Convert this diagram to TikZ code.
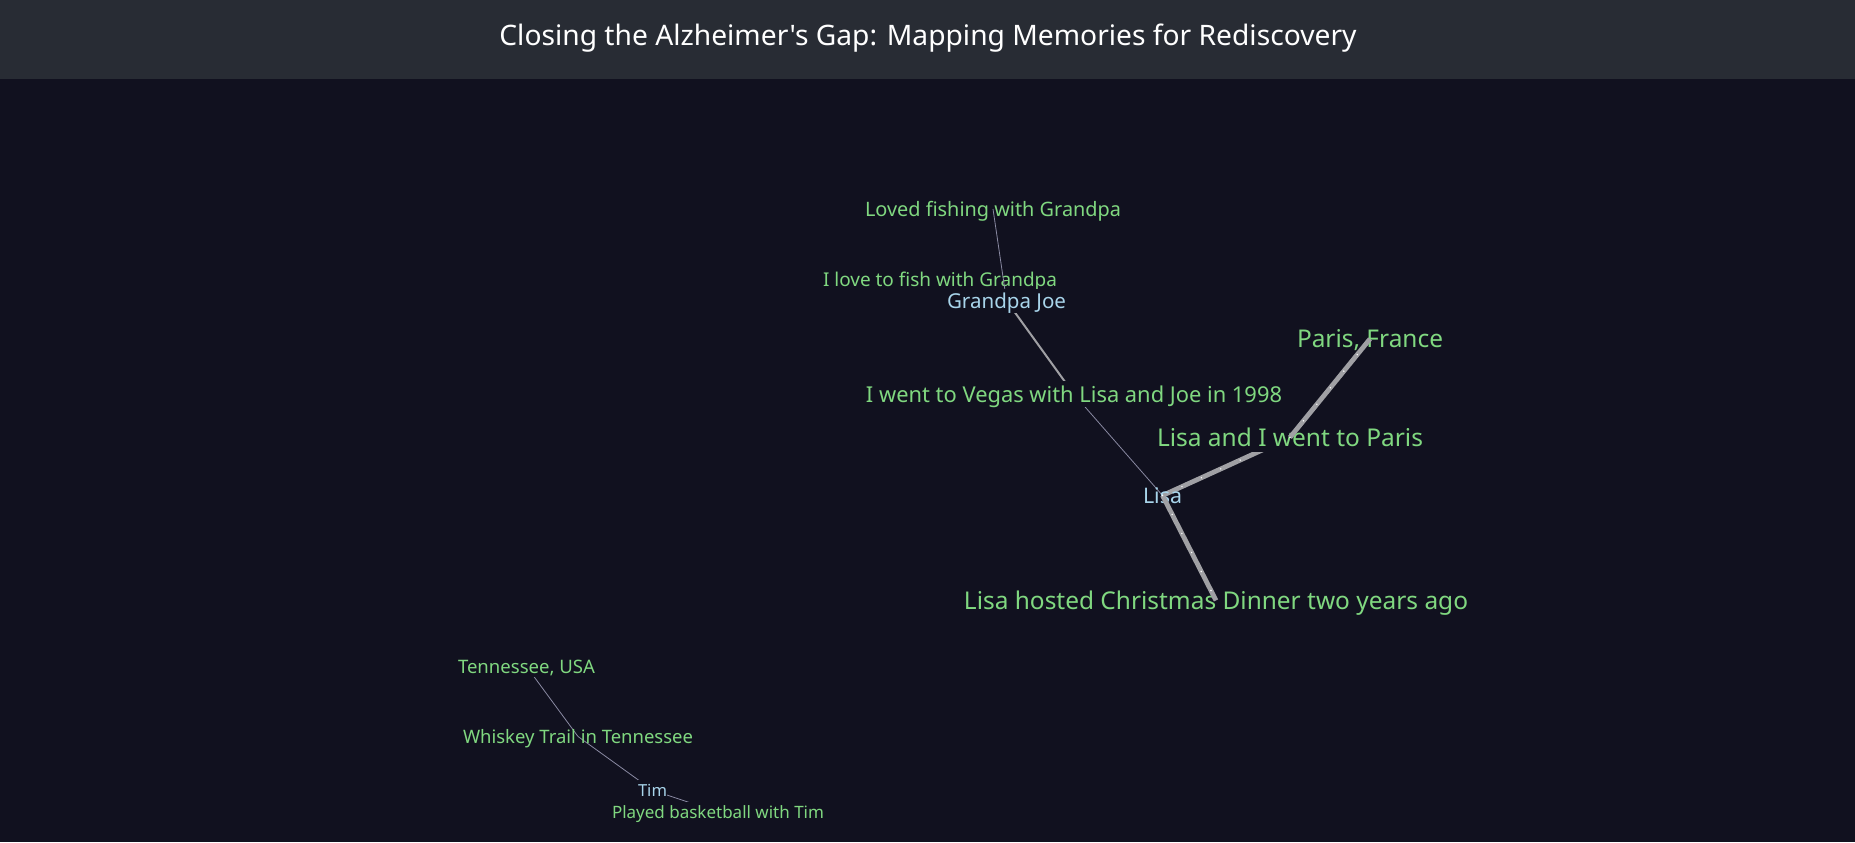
\documentclass[tikz,border=0pt]{standalone}
\usepackage{fontspec}
\usepackage{graphicx}
\newfontfamily\uifont{Noto Sans}
\usetikzlibrary{calc}
\definecolor{bgc}{HTML}{11111F}
\definecolor{hdrc}{HTML}{282C34}
\definecolor{memc}{HTML}{80D880}
\definecolor{perc}{HTML}{A8D4EA}
\definecolor{thinc}{HTML}{8A8AA2}
\definecolor{thickc}{HTML}{A0A0A4}
\newlength\pxu
\setlength\pxu{0.75pt}
\newcommand\fittext[2]{\resizebox{#1\pxu}{!}{\vphantom{Ág}#2}}
\pgfdeclarelayer{back}
\pgfdeclarelayer{links}
\pgfdeclarelayer{mid}
\pgfdeclarelayer{front}
\pgfsetlayers{back,links,main,mid,front}
\begin{document}
\begin{tikzpicture}[x=0.75pt,y=-0.75pt,
  lbl/.style={inner sep=0pt, anchor=base, font=\uifont},
  mem/.style={lbl, text=memc},
  per/.style={lbl, text=perc},
  occl/.style={fill=bgc},
  thinlink/.style={draw=thinc, line width=0.6pt},
  midlink/.style={draw=thickc, line width=1.5pt},
  thicklink/.style={draw=thickc, line width=3.6pt},
  sparks/.style={draw=white, line width=1.2pt, line cap=round, dash pattern=on 0pt off 16pt}]
\begin{pgfonlayer}{back}
\useasboundingbox (0,0) rectangle (1855,842);
\fill[bgc] (0,0) rectangle (1855,842);
\fill[hdrc] (0,0) rectangle (1855,79);
\end{pgfonlayer}
\node[lbl, text=white] (title) at (928,46) {\fittext{857}{Closing the Alzheimer's Gap: Mapping Memories for Rediscovery}};
% upper cluster
\begin{pgfonlayer}{front}
\node[per, occl] (gjoe) at (1006.5,308) {\fittext{119}{Grandpa Joe}};
\end{pgfonlayer}
\node[mem] (loved) at (993,216) {\fittext{256}{Loved fishing with Grandpa}};
\node[mem, occl] (ilove) at (940,286.5) {\fittext{234}{I love to fish with Grandpa}};
\node[mem, occl] (vegas) at (1074,402) {\fittext{416}{I went to Vegas with Lisa and Joe in 1998}};
\node[per] (lisa) at (1162.5,503) {\fittext{39}{Lisa}};
\node[mem, occl] (lisaparis) at (1290,446) {\fittext{266}{Lisa and I went to Paris}};
\node[mem] (paris) at (1370,347.5) {\fittext{146}{Paris, France}};
\node[mem] (xmas) at (1216,609) {\fittext{504}{Lisa hosted Christmas Dinner two years ago}};
% lower cluster
\node[mem, occl] (tenn) at (526.5,673) {\fittext{137}{Tennessee, USA}};
\node[mem] (whiskey) at (578,743) {\fittext{230}{Whiskey Trail in Tennessee}};
\node[per, occl] (tim) at (652.5,796) {\fittext{29}{Tim}};
\node[mem, occl] (played) at (718,818) {\fittext{212}{Played basketball with Tim}};
\begin{pgfonlayer}{links}
\path[thinlink] (ilove.center) -- (gjoe.center);
\path[midlink] (gjoe.center) -- (vegas.center);
\path[thinlink] (vegas.center) -- (lisa.center);
\path[thicklink] (lisa.center) -- (lisaparis.center);
\path[sparks] (lisa.center) -- (lisaparis.center);
\path[thinlink] (tenn.center) -- (whiskey.center);
\path[thinlink] (whiskey.center) -- (tim.center);
\path[thinlink] (tim.center) -- (played.center);
\end{pgfonlayer}
\begin{pgfonlayer}{mid}
\path[thinlink] (loved.center) -- (gjoe.center);
\end{pgfonlayer}
\begin{pgfonlayer}{front}
\path[thicklink] (lisaparis.center) -- (paris.center);
\path[sparks] (lisaparis.center) -- (paris.center);
\path[thicklink] (lisa.center) -- (xmas.center);
\path[sparks] (lisa.center) -- (xmas.center);
\end{pgfonlayer}
\end{tikzpicture}
\end{document}
